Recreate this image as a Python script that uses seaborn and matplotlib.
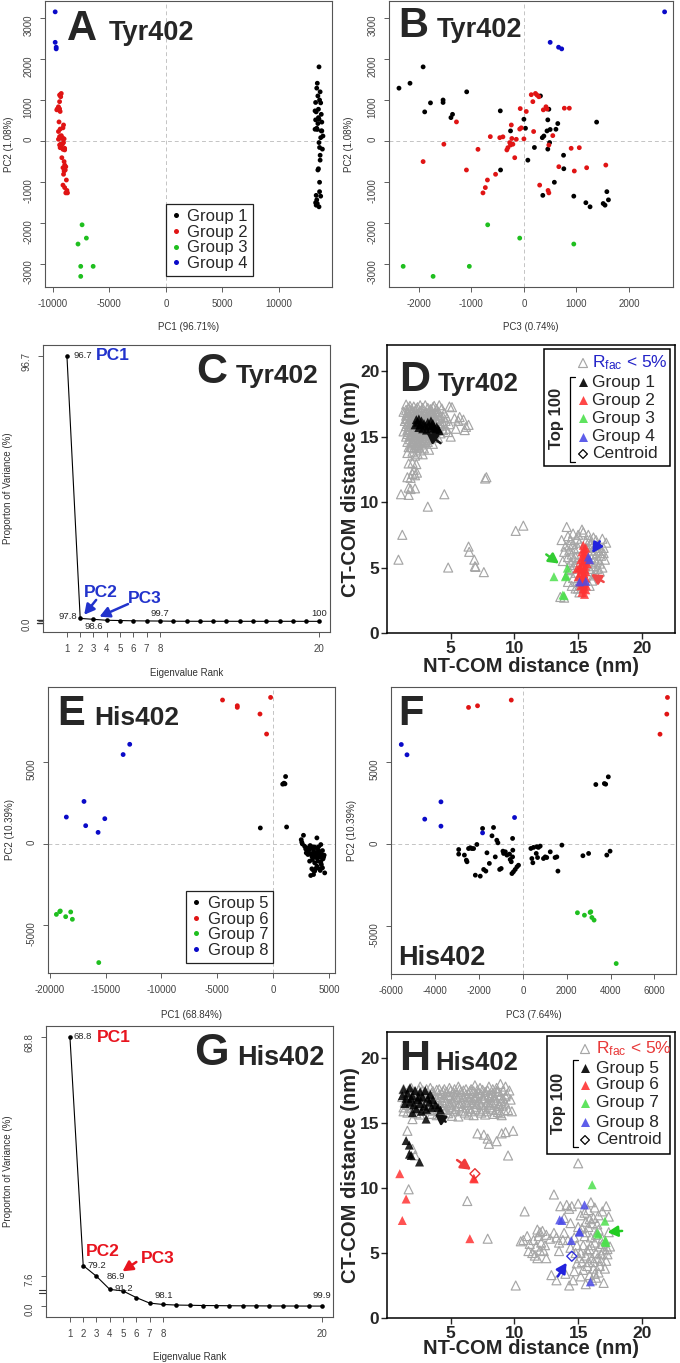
import numpy as np
import pandas as pd
import matplotlib
matplotlib.use("Agg")
import matplotlib.pyplot as plt
import seaborn as sns
from matplotlib.patches import Rectangle
from matplotlib.lines import Line2D

# ---------------- Tyr402 PCA (groups 1-4) ----------------
tyr_g1_pc1 = [13350, 13400, 13550, 13700, 13300, 13600, 13250, 13750, 13500, 13650,
              13200, 13450, 13800, 13550, 13350, 13650, 13450, 13700, 13900, 13600,
              13250, 13500, 13750, 13400, 13850, 13550, 13300, 13600, 13200, 13450,
              13650, 13500, 13700, 13250, 13550, 13400, 13300, 13600, 13350, 13800]
tyr_g1_pc2 = [1290, 1410, 1810, 930, 710, 1000, 940, 650, 570, 1200,
              735, -710, 245, 530, 310, -470, 1100, 80, 120, -160,
              515, 775, 245, 280, -200, -40, -1330, -1010, 285, 425,
              -350, -680, -1350, -1510, -1610, -1530, -1570, -1240, -1440, 460]
tyr_g1_pc3 = [-2380, -2170, -1920, -1780, -1890, -1540, -1540, -1360, -1390, -1090,
              -450, -445, -255, 0, 30, 75, 315, 350, 380, 200,
              455, 475, 440, 500, 455, 490, 360, 580, 610, 645,
              755, 760, 950, 1180, 1260, 1510, 1545, 1580, 1610, 1385]

tyr_g2_pc1 = [-9000, -9300, -9450, -8900, -9100, -8700, -8950, -8800, -9400, -9050,
              -9150, -9350, -8950, -9250, -9050, -9400, -9200, -9050, -9150, -9200,
              -9500, -9550, -9350, -9350, -9100, -9000, -9350, -9400, -9500, -9250,
              -9400, -9300, -9100, -9650, -9500, -9400, -9300, -8850, -8750, -9250,
              -8850, -8950, -9000, -9350, -9550, -9450, -9100, -8950]
tyr_g2_pc2 = [-505, -80, 465, -710, -205, -1270, -1140, -955, 105, -815,
              80, 100, -220, -165, -40, -100, 60, 390, -80, -410,
              40, 790, 720, 290, 320, 50, 1130, 960, 230, 1160,
              1120, 1080, -1080, 760, 835, 780, -100, -1270, -1210, 130,
              -630, -180, -735, -165, 800, 800, -655, -590]
tyr_g2_pc3 = [-1920, -1525, -1285, -1095, -875, -780, -735, -695, -640, -540,
              -460, -400, -325, -305, -270, -255, -230, -240, -210, -175,
              -145, -70, 45, -80, -50, 0, 140, 170, 185, 220,
              250, 285, 300, 370, 420, 440, 475, 475, 460, 550,
              665, 900, 960, 1055, 770, 865, 1195, 1560]

tyr_g3_pc1 = [-7410, -7030, -7770, -7530, -6430, -7530]
tyr_g3_pc2 = [-2050, -2375, -2520, -3065, -3065, -3310]
tyr_g3_pc3 = [-690, -80, 950, -2300, -1040, -1730]

tyr_g4_pc1 = [-9790, -9790, -9700, -9700]
tyr_g4_pc2 = [3155, 2410, 2290, 2250]
tyr_g4_pc3 = [2680, 500, 660, 720]

# ---------------- His402 PCA (groups 5-8) ----------------
his_g5_pc1 = [2900, 3300, 3100, 3500, 3250, 3000, 3700, 3900, 3400, 2600,
              3600, 3350, 3800, 4200, 3950, -1160, 2700, 1190, 3700, 2500,
              2550, 4050, 3450, 4400, 3600, 3850, 4100, 4300, 3550, 4450,
              4000, 3900, 4600, 3700, 4150, 3900, 4300, 3650, 3200, 3150,
              3900, 4250, 3550, 2800, 4050, 3300, 2950, 3750, 4350, 3450,
              4200, 3100, 4500, 3950, 3600, 4250, 4550, 4000, 3800, 4400,
              840, 955, 1045, 1100]
his_g5_pc2 = [-330, -610, -670, -980, -1080, -270, -220, -270, -270, -20,
              -1900, -1960, -1550, -1650, -530, 960, 510, 1020, -1180, 240,
              80, -780, -1550, -1490, -430, -570, -470, -670, -610, -940,
              -1080, 350, -1800, -1690, -1550, -1390, -1290, -780, -370, -265,
              -880, -1140, -200, -160, -200, -120, -570, -820, -880, -780,
              -820, -470, -820, -780, -1650, -60, -710, -570, -670, -430,
              3650, 3710, 3670, 4120]
his_g5_pc3 = [-2930, -2930, -2670, -2580, -2550, -2480, -2400, -2330, -2250, -2100,
              -2170, -1945, -1790, -1690, -1640, -1840, -1410, -1340, -1530, -1190,
              -1140, -1260, -1060, -990, -910, -880, -800, -730, -610, -580,
              -530, -470, -500, -430, -350, -270, -200, -470, -460, 365,
              410, 455, 485, 640, 710, 790, 610, 670, 940, 1020,
              1090, 1250, 1470, 1550, 1600, 1780, 2740, 3000, 3830, 3980,
              3330, 3720, 3780, 3900]

his_g6_pc1 = [-4540, -3220, -3220, -1190, -240, -600]
his_g6_pc2 = [8820, 8470, 8370, 7960, 8980, 6730]
his_g6_pc3 = [-530, -2070, -2480, 6570, 6600, 6260]

his_g7_pc1 = [-19400, -19100, -19050, -18570, -18120, -17970, -15610]
his_g7_pc2 = [-4350, -4180, -4140, -4490, -4200, -4650, -7310]
his_g7_pc3 = [2810, 3070, 3100, 3150, 2490, 3250, 4260]

his_g8_pc1 = [-12840, -13430, -16930, -18510, -15070, -16780, -15670]
his_g8_pc2 = [6100, 5470, 2590, 1630, 1530, 1100, 690]
his_g8_pc3 = [-5550, -5290, -3740, -380, -4480, -3740, -1840]

# ---------------- scree plots ----------------
ranks = list(range(1, 21))
tyr_var = [96.71, 1.08, 0.74, 0.40, 0.30, 0.20, 0.15, 0.12, 0.05, 0.04,
           0.03, 0.03, 0.03, 0.02, 0.02, 0.02, 0.02, 0.02, 0.01, 0.01]
his_var = [68.84, 10.39, 7.64, 4.30, 3.90, 2.20, 0.80, 0.45, 0.30, 0.25,
           0.18, 0.15, 0.12, 0.10, 0.09, 0.07, 0.06, 0.05, 0.04, 0.04]
rank_ticks = [1, 2, 3, 4, 5, 6, 7, 8, 20]

# ---------------- NT-COM / CT-COM distances (nm) ----------------
tyr_rfac = [(1.5, 17.45), (2.1, 17.3), (2.6, 17.4), (3.2, 17.2), (3.7, 17.35), (4.3, 17.15), (4.9, 17.3), (5.1, 17.25),
            (1.3, 16.9), (1.8, 17.05), (2.2, 16.95), (2.7, 17.0), (3.1, 16.85), (3.5, 17.0), (4.0, 16.9), (4.5, 16.8), (5.3, 16.4),
            (1.5, 16.6), (1.9, 16.5), (2.3, 16.7), (2.8, 16.55), (3.3, 16.6), (3.8, 16.45), (4.2, 16.6), (4.7, 16.4), (5.7, 16.5), (6.0, 16.3),
            (1.4, 16.2), (1.7, 16.1), (2.1, 16.3), (2.5, 16.15), (3.0, 16.25), (3.4, 16.1), (3.9, 16.2), (4.4, 16.05), (4.9, 15.95), (5.6, 16.2),
            (1.5, 15.8), (1.9, 15.75), (2.3, 15.9), (2.7, 15.7), (3.2, 15.85), (3.6, 15.7), (4.1, 15.8), (4.6, 15.6), (6.4, 15.9), (6.2, 15.75),
            (1.3, 15.4), (1.7, 15.35), (2.1, 15.5), (2.5, 15.3), (2.9, 15.45), (3.4, 15.3), (3.8, 15.4), (4.2, 15.25), (4.8, 15.35), (5.4, 15.6), (6.1, 15.5), (5.0, 15.0),
            (1.5, 15.0), (1.9, 15.1), (2.3, 14.95), (2.7, 15.05), (3.1, 14.9), (3.5, 15.0), (4.0, 14.9),
            (1.6, 14.6), (2.0, 14.5), (2.4, 14.65), (2.8, 14.5), (3.2, 14.6), (3.6, 14.45),
            (1.7, 14.2), (2.1, 14.1), (2.5, 14.25), (2.9, 14.1), (3.3, 14.0),
            (1.6, 13.75), (2.0, 13.85), (2.4, 13.7), (2.8, 13.65), (2.2, 13.55),
            (1.7, 17.2), (2.3, 17.15), (2.8, 17.2), (3.4, 17.1), (3.9, 17.1), (1.6, 16.8), (2.0, 16.85), (2.5, 16.8), (3.0, 16.7), (3.5, 16.8), (4.0, 16.65),
            (1.6, 16.4), (2.1, 16.45), (2.6, 16.4), (3.1, 16.4), (3.6, 16.35), (4.1, 16.4), (1.6, 16.0), (2.0, 15.95), (2.4, 16.0), (2.9, 15.95), (3.3, 16.0), (3.8, 15.95),
            (1.7, 15.6), (2.1, 15.6), (2.5, 15.55), (3.0, 15.6), (3.4, 15.55), (3.9, 15.6), (1.6, 15.2), (2.0, 15.25), (2.4, 15.15), (2.8, 15.2), (3.3, 15.15),
            (1.8, 14.8), (2.2, 14.8), (2.6, 14.85), (3.0, 14.75), (1.9, 14.4), (2.3, 14.35), (2.7, 14.4),
            (1.8, 17.35), (2.4, 17.25), (3.0, 17.4), (3.6, 17.25), (4.1, 17.4), (1.5, 17.05), (2.0, 17.0), (2.6, 16.95), (3.3, 16.95), (3.8, 16.85),
            (1.7, 16.65), (2.2, 16.6), (2.7, 16.6), (3.2, 16.5), (3.7, 16.6), (4.4, 16.5), (1.5, 16.35), (1.9, 16.3), (2.4, 16.25), (2.8, 16.3),
            (3.3, 16.25), (3.9, 16.35), (4.6, 16.2), (1.8, 15.95), (2.2, 16.05), (2.6, 15.85), (3.1, 15.75), (3.5, 15.95), (4.3, 15.85), (1.6, 15.5),
            (2.0, 15.45), (2.3, 15.35), (2.7, 15.45), (3.2, 15.35), (3.6, 15.45), (4.4, 15.5), (1.8, 15.05), (2.2, 15.15), (2.6, 15.25), (3.0, 15.05),
            (3.7, 15.15), (2.0, 14.65), (2.5, 14.55), (2.9, 14.65), (3.3, 14.8), (1.9, 14.2), (2.3, 14.15), (2.6, 13.95),
            (1.7, 12.95), (2.0, 13.0), (2.3, 12.9), (2.1, 12.45), (2.35, 12.25), (2.0, 12.15), (1.6, 11.9), (1.85, 11.85), (2.2, 12.05),
            (1.7, 11.1), (1.85, 11.0), (2.2, 11.05), (1.1, 10.6), (1.7, 10.55), (3.2, 9.65), (4.5, 10.6), (7.7, 11.8), (7.8, 11.9),
            (1.2, 7.5), (0.9, 5.6), (4.8, 5.0), (6.4, 6.6), (6.45, 6.2), (6.85, 5.6), (6.9, 5.1), (6.95, 5.05), (7.6, 4.65), (10.1, 7.8), (10.7, 8.2),
            (14.1, 8.1), (13.7, 7.1), (14.4, 7.1), (15.3, 7.9), (15.4, 7.7), (15.8, 7.5), (16.2, 7.3), (16.4, 7.1), (14.0, 6.6), (14.3, 6.3),
            (13.9, 6.2), (14.6, 6.8), (14.9, 7.2), (15.1, 6.9), (15.6, 7.0), (16.0, 6.8), (16.6, 6.7), (17.0, 6.5), (17.2, 6.9), (16.9, 7.2),
            (14.5, 6.0), (14.8, 5.8), (14.7, 6.4), (16.1, 6.3), (16.5, 6.1), (16.8, 5.9), (17.1, 5.6), (16.3, 5.7), (16.7, 5.3), (16.2, 5.1),
            (16.9, 5.0), (16.5, 4.9), (16.4, 4.5), (16.0, 4.7), (14.4, 5.4), (14.7, 5.2), (14.3, 4.8), (14.8, 4.6), (14.6, 4.2), (14.9, 3.9),
            (14.5, 3.6), (15.0, 3.4), (15.2, 3.6), (15.1, 3.1), (16.1, 4.0), (15.9, 3.6), (13.6, 2.75), (13.9, 2.7), (14.2, 5.8), (13.8, 5.5),
            (14.2, 7.4), (14.6, 7.6), (15.0, 7.5), (15.7, 6.5), (16.3, 6.5), (15.9, 6.0), (16.6, 5.6), (16.2, 6.0), (16.8, 6.3), (17.0, 6.1),
            (15.0, 6.5), (16.1, 6.6), (16.4, 5.4), (16.7, 4.7), (14.9, 5.4), (14.5, 4.9), (16.2, 4.4), (15.9, 7.1), (14.3, 6.7), (14.8, 3.4),
            (16.0, 5.3), (16.6, 6.3), (14.6, 5.6), (15.9, 4.9), (14.2, 3.9)]

tyr_top = {
    "Group 1": [(2.3, 16.3), (2.4, 16.1), (2.5, 16.35), (2.6, 15.9), (2.7, 16.2), (2.5, 15.7), (2.9, 16.0), (3.0, 15.8),
                (3.2, 16.1), (3.3, 15.9), (3.4, 15.6), (3.5, 15.85), (3.6, 16.0), (3.7, 15.7), (3.8, 15.5), (3.9, 15.75),
                (4.0, 15.6), (4.1, 15.45), (2.8, 15.6), (3.1, 15.5), (2.2, 15.9), (3.45, 16.2)],
    "Group 2": [(15.4, 6.7), (15.5, 6.4), (15.3, 6.2), (15.6, 6.0), (15.4, 5.8), (15.2, 5.6), (15.5, 5.5), (15.7, 5.3),
                (15.3, 5.2), (15.1, 5.0), (15.5, 4.9), (15.6, 4.7), (15.2, 4.6), (15.4, 4.4), (15.0, 4.3), (15.6, 4.2),
                (15.3, 4.0), (15.5, 3.8), (15.2, 3.6), (15.4, 3.4), (15.6, 3.3), (15.3, 3.1), (15.5, 2.95), (15.45, 6.1),
                (15.35, 5.4), (15.55, 5.1), (15.25, 4.8), (15.45, 4.55), (15.65, 3.6), (15.15, 3.9), (15.4, 3.7),
                (15.35, 4.25), (14.9, 4.9), (15.8, 5.6), (15.6, 6.5)],
    "Group 3": [(13.1, 4.3), (14.0, 4.3), (14.15, 4.95), (14.05, 4.4), (13.8, 2.9), (13.9, 2.85)],
    "Group 4": [(15.9, 5.6), (15.8, 5.8), (15.6, 3.95), (15.1, 3.9)],
}

his_rfac = [(1.3, 17.6), (1.9, 17.7), (2.6, 17.8), (3.4, 17.7), (4.1, 17.6), (4.9, 17.7), (5.6, 17.8), (6.2, 17.6), (6.9, 17.9), (7.3, 17.7),
            (8.0, 17.8), (8.6, 17.7), (8.9, 18.0), (9.3, 17.8), (9.6, 17.5),
            (1.5, 17.3), (2.2, 17.4), (2.9, 17.3), (3.6, 17.45), (4.3, 17.3), (4.7, 17.4), (5.2, 17.35), (5.8, 17.4), (6.4, 17.3), (6.8, 17.45),
            (7.2, 17.3), (7.7, 17.4), (8.3, 17.3), (8.7, 17.4), (9.4, 17.2),
            (1.2, 17.0), (1.8, 16.95), (2.4, 17.1), (3.1, 16.9), (3.8, 17.0), (4.5, 16.95), (5.0, 17.05), (5.5, 16.9), (6.0, 17.0), (6.6, 16.95),
            (7.0, 17.1), (7.5, 16.9), (8.1, 17.0), (8.5, 16.9), (9.1, 16.9), (9.7, 16.8),
            (1.4, 16.6), (2.0, 16.55), (2.7, 16.7), (3.3, 16.5), (4.0, 16.6), (4.6, 16.55), (5.1, 16.65), (5.7, 16.5), (6.2, 16.6), (6.7, 16.5),
            (7.2, 16.65), (7.8, 16.5), (8.2, 16.6), (8.8, 16.45), (9.3, 16.5),
            (1.3, 16.2), (1.9, 16.15), (2.5, 16.3), (3.2, 16.1), (3.9, 16.2), (4.4, 16.1), (4.9, 16.25), (5.4, 16.1), (5.9, 16.2), (6.5, 16.1),
            (7.0, 16.25), (7.6, 16.1), (8.1, 16.2), (8.6, 16.0), (9.5, 16.0), (9.8, 15.9),
            (1.6, 15.8), (2.3, 15.75), (3.5, 15.7), (4.2, 15.8), (4.8, 15.75), (5.6, 15.5), (6.1, 15.8), (6.8, 15.6), (7.4, 15.8), (8.4, 15.7),
            (9.0, 15.6), (2.0, 15.3),
            (1.7, 17.5), (2.5, 17.55), (3.1, 17.6), (3.9, 17.55), (4.5, 17.6), (5.3, 17.6), (6.0, 17.5), (6.6, 17.6), (7.5, 17.55), (8.3, 17.6),
            (1.6, 17.15), (2.6, 17.2), (3.3, 17.15), (4.1, 17.2), (5.4, 17.2), (6.2, 17.2), (7.4, 17.2), (8.0, 17.15), (8.9, 17.15),
            (1.7, 16.8), (2.3, 16.8), (3.0, 16.75), (3.6, 16.8), (4.3, 16.75), (5.3, 16.8), (6.4, 16.8), (6.9, 16.75), (7.6, 16.8), (8.4, 16.75), (9.0, 16.7),
            (1.6, 16.4), (2.2, 16.4), (2.9, 16.35), (3.6, 16.4), (4.2, 16.35), (5.0, 16.4), (5.6, 16.3), (6.3, 16.4), (7.4, 16.4), (8.0, 16.4), (8.8, 16.3),
            (2.7, 16.0), (3.7, 15.95), (4.6, 16.0), (5.3, 15.9), (6.6, 15.9), (7.8, 15.9), (8.7, 15.85),
            (2.0, 17.35), (2.8, 17.5), (3.5, 17.3), (4.4, 17.45), (5.0, 17.5), (5.7, 17.6), (6.5, 17.45), (7.1, 17.55), (7.9, 17.5), (8.6, 17.45), (9.1, 17.5),
            (2.1, 17.0), (2.9, 17.05), (3.5, 16.95), (4.2, 17.0), (4.8, 17.15), (5.7, 17.0), (6.3, 17.05), (6.9, 16.95), (7.7, 17.1), (8.4, 17.05), (9.3, 17.05),
            (1.8, 16.5), (2.5, 16.6), (3.4, 16.65), (4.4, 16.55), (4.9, 16.5), (5.9, 16.55), (6.6, 16.6), (7.0, 16.45), (7.9, 16.6), (8.5, 16.55), (9.1, 16.35),
            (2.1, 16.1), (2.9, 16.15), (3.4, 16.0), (4.1, 15.95), (5.1, 16.05), (5.8, 15.95), (6.9, 16.05), (7.3, 15.95), (8.3, 16.05), (9.2, 15.95),
            (2.6, 15.65), (3.9, 15.6), (5.1, 15.55), (6.4, 15.65), (7.7, 15.65), (8.9, 15.75),
            (7.1, 14.2), (7.6, 14.1), (7.9, 13.8), (8.0, 13.4), (8.6, 13.6), (9.0, 14.2), (9.3, 14.3), (9.9, 14.4), (9.5, 12.5), (1.6, 14.4),
            (2.0, 13.0), (2.2, 12.5), (1.7, 9.9), (6.3, 9.0), (7.9, 6.1), (1.3, 15.9),
            (15.0, 11.9), (13.1, 9.5), (10.8, 8.2), (13.6, 8.6), (14.1, 8.7), (14.5, 8.6), (14.3, 8.4), (15.0, 8.8), (15.8, 8.3), (16.3, 8.5),
            (16.9, 8.2), (17.2, 8.6), (16.6, 7.9), (17.4, 7.8), (10.7, 6.0), (10.5, 5.9), (11.2, 5.7), (11.5, 6.0), (11.9, 6.3), (12.2, 6.7),
            (12.5, 6.4), (11.1, 5.15), (11.4, 5.0), (11.6, 4.8), (12.3, 5.15), (12.5, 4.6), (11.0, 6.3), (11.8, 6.8), (12.1, 5.8), (13.1, 6.55),
            (13.9, 6.55), (13.5, 5.8), (13.5, 5.15), (13.8, 6.0), (14.4, 5.4), (14.7, 6.2), (15.0, 7.0), (15.3, 6.9), (15.6, 6.6), (15.8, 7.0),
            (16.2, 7.7), (16.5, 7.2), (16.0, 6.2), (16.3, 5.8), (16.7, 5.5), (17.0, 5.2), (16.4, 5.0), (16.1, 4.6), (16.8, 4.4), (17.3, 4.9),
            (17.5, 5.5), (15.4, 5.6), (15.2, 5.0), (15.6, 4.8), (14.9, 4.2), (15.3, 4.3), (15.7, 4.0), (16.2, 3.8), (16.6, 3.5), (17.1, 3.8),
            (17.2, 4.4), (14.0, 3.4), (14.6, 2.9), (15.2, 3.2), (15.6, 2.6), (16.1, 2.9), (16.4, 3.1), (17.0, 2.7), (13.3, 2.9), (12.9, 3.3),
            (10.1, 2.5), (14.3, 2.5), (15.9, 3.3), (16.9, 6.1), (17.4, 6.6), (16.6, 6.8), (15.9, 7.6), (15.2, 7.9), (14.4, 7.3), (13.9, 7.7),
            (16.2, 4.3), (15.9, 5.3), (16.7, 4.0), (14.7, 3.6), (12.0, 5.2), (11.8, 4.6), (12.8, 6.1), (15.5, 8.1), (16.0, 8.9), (14.8, 5.0),
            (15.5, 6.3), (16.0, 5.6), (16.4, 6.4), (15.7, 5.2), (16.5, 4.6), (16.9, 5.7), (15.1, 4.6), (15.8, 4.3), (16.3, 3.4), (15.4, 3.7),
            (16.8, 4.9), (17.3, 5.3), (14.9, 5.6), (15.6, 7.4), (16.1, 7.3), (12.4, 5.6), (11.7, 5.5), (12.0, 6.6), (13.3, 6.2), (14.2, 6.0)]

his_top = {
    "Group 5": [(1.3, 17.6), (1.6, 17.3), (1.8, 17.7), (2.0, 17.1), (2.2, 17.5), (2.4, 16.8), (2.6, 17.4), (2.8, 17.0),
                (3.0, 17.5), (3.2, 16.9), (3.4, 17.2), (1.5, 16.9), (1.8, 16.6), (2.1, 16.4), (2.3, 16.1), (2.0, 15.8),
                (2.6, 16.5), (2.9, 16.3), (3.3, 16.6), (3.6, 16.8), (3.8, 16.4), (4.0, 16.2), (4.2, 16.0), (1.4, 16.5),
                (1.9, 16.9), (2.7, 15.9), (3.5, 16.2), (2.5, 17.0), (1.2, 17.1), (3.1, 16.05), (3.07, 15.3),
                (1.5, 13.65), (1.75, 13.3), (1.76, 12.6), (1.9, 12.5), (2.55, 12.0)],
    "Group 6": [(1.0, 11.1), (1.5, 9.15), (1.2, 7.5), (6.5, 6.1), (6.8, 10.75), (6.85, 10.7)],
    "Group 7": [(16.1, 10.25), (17.1, 7.45), (16.5, 6.55), (17.1, 5.86), (17.15, 6.0), (16.6, 6.45), (17.2, 5.8)],
    "Group 8": [(15.5, 8.7), (13.55, 7.55), (13.73, 7.5), (15.1, 6.6), (14.46, 5.96), (15.96, 2.78), (15.1, 6.65)],
}
his_centroids = [(6.9, 11.1, "Group 6"), (14.5, 4.75, "Group 8")]

# ---------------- colours ----------------
dot_cols = ["#000000", "#e01414", "#1fbf1f", "#0a0ac8"]
tri_cols = ["#000000", "#ff3434", "#4ee04e", "#4c4ce8"]
grey = "#a6a6a6"

W, H = 680, 1363
sns.set_style("white")
plt.rcParams["font.family"] = ["Liberation Sans", "DejaVu Sans"]
plt.rcParams["axes.unicode_minus"] = False
plt.rcParams["mathtext.fontset"] = "custom"
plt.rcParams["mathtext.rm"] = "Liberation Sans"
plt.rcParams["mathtext.it"] = "Liberation Sans:italic"

fig = plt.figure(figsize=(W / 100, H / 100), dpi=100)


def add_ax(box):
    l, t, r, b = box
    return fig.add_axes([l / W, 1 - b / H, (r - l) / W, (b - t) / H])


def place_labels(ax, box, xlab_y, ylab_x):
    l, t, r, b = box
    ax.xaxis.set_label_coords(0.5, (b - xlab_y) / (b - t))
    ax.xaxis.label.set_va("center")
    ax.yaxis.set_label_coords((ylab_x - l) / (r - l), 0.5)
    ax.yaxis.label.set_va("center")


def r_style(ax):
    for sp in ax.spines.values():
        sp.set_color("#555555")
        sp.set_linewidth(0.8)
    ax.tick_params(bottom=True, left=True, direction="out", length=3.5, width=0.6,
                   colors="#444444", labelsize=7, pad=5)
    ax.tick_params(axis="y", labelrotation=90)


def tag(letter, lx, name, nx, base, s1, s2):
    fig.text(lx / W, 1 - base / H, letter, fontsize=s1, fontweight="bold", va="baseline")
    fig.text(nx / W, 1 - base / H, name, fontsize=s2, fontweight="bold", va="baseline")


def pca_panel(box, df, xcol, ycol, xlim, ylim, xticks, yticks, xlabel, ylabel, xlab_y, ylab_x):
    ax = add_ax(box)
    ax.axhline(0, color="#c4c4c4", lw=0.7, ls=(0, (4, 3)), zorder=0)
    ax.axvline(0, color="#c4c4c4", lw=0.7, ls=(0, (4, 3)), zorder=0)
    sns.scatterplot(data=df, x=xcol, y=ycol, hue="group", palette=dot_cols, s=12,
                    linewidth=0, legend=False, ax=ax, zorder=3)
    ax.set(xlim=xlim, ylim=ylim, xticks=xticks, yticks=yticks)
    ax.set_xlabel(xlabel, fontsize=7, color="#333333")
    ax.set_ylabel(ylabel, fontsize=7, color="#333333")
    r_style(ax)
    place_labels(ax, box, xlab_y, ylab_x)
    return ax


def group_legend(ax, names, anchor):
    handles = [Line2D([], [], ls="", marker="o", markersize=3.6, color=c, markeredgewidth=0) for c in dot_cols]
    leg = ax.legend(handles, names, loc="lower left", bbox_to_anchor=anchor, borderaxespad=0,
                    fontsize=12, frameon=True, fancybox=False, edgecolor="#222222", framealpha=1,
                    handlelength=0.6, handletextpad=0.4, labelspacing=0.04, borderpad=0.3)
    leg.get_frame().set_linewidth(0.9)


def scree_panel(box, var, yticks, ylabels, ylim, xlab_y, ylab_x):
    ax = add_ax(box)
    sns.lineplot(x=ranks, y=var, color="black", lw=0.8, marker="o", markersize=3.3,
                 markeredgewidth=0, ax=ax)
    ax.set(xlim=(-0.8, 20.8), ylim=ylim)
    ax.set_xticks(rank_ticks)
    ax.set_yticks(yticks)
    ax.set_yticklabels(ylabels)
    ax.set_xlabel("Eigenvalue Rank", fontsize=7, color="#333333")
    ax.set_ylabel("Proporton of Variance (%)", fontsize=7, color="#333333")
    r_style(ax)
    place_labels(ax, box, xlab_y, ylab_x)
    return ax


def dist_panel(box, rfac, top, cols, xlab_y, ylab_x):
    ax = add_ax(box)
    gx, gy = zip(*rfac)
    sns.scatterplot(x=list(gx), y=list(gy), marker="^", s=42, color=grey, facecolor="none",
                    edgecolor=grey, linewidth=0.85, ax=ax, zorder=2)
    rows = [(n, x, y) for n, pts in top.items() for x, y in pts]
    tdf = pd.DataFrame(rows, columns=["group", "x", "y"])
    sns.scatterplot(data=tdf, x="x", y="y", hue="group", palette=cols, marker="^", s=42,
                    linewidth=0, alpha=0.85, legend=False, ax=ax, zorder=3)
    ax.set(xlim=(0, 22.6), ylim=(0, 22), xticks=[5, 10, 15, 20], yticks=[0, 5, 10, 15, 20])
    for sp in ax.spines.values():
        sp.set_color("black")
        sp.set_linewidth(1.1)
    ax.tick_params(bottom=True, left=True, direction="out", length=4, width=1.0,
                   labelsize=12.5, pad=1.5)
    for lab in ax.get_xticklabels() + ax.get_yticklabels():
        lab.set_fontweight("bold")
    ax.set_xlabel("NT-COM distance (nm)", fontsize=14.5, fontweight="bold")
    ax.set_ylabel("CT-COM distance (nm)", fontsize=14.5, fontweight="bold")
    place_labels(ax, box, xlab_y, ylab_x)
    return ax


def arrow(ax, x0, y0, x1, y1, c):
    ax.annotate("", xy=(x1, y1), xytext=(x0, y0), zorder=6,
                arrowprops=dict(arrowstyle="-|>,head_length=0.6,head_width=0.32", color=c,
                                lw=1.8, shrinkA=0, shrinkB=0))


def dist_legend(ax, box, lb, rows_y, mx, tx, brx, br_t, br_b, top_xy, names, cols, rcol):
    l, t, r, b = box

    def A(x, y):
        return ((x - l) / (r - l), (b - y) / (b - t))

    x0, y0 = A(lb[0], lb[3])
    x1, y1 = A(lb[2], lb[1])
    ax.add_patch(Rectangle((x0, y0), x1 - x0, y1 - y0, transform=ax.transAxes, facecolor="white",
                           edgecolor="black", lw=1.1, zorder=7))
    labels = [r"R$_{\rm fac}$ < 5%"] + names + ["Centroid"]
    for i, (yy, lab) in enumerate(zip(rows_y, labels)):
        px, py = A(mx, yy)
        tx_, _ = A(tx, yy)
        if i == 0:
            ax.scatter([px], [py], marker="^", s=42, facecolor="none", edgecolor=grey, lw=0.85,
                       transform=ax.transAxes, zorder=8, clip_on=False)
            ax.text(tx_, py, lab, transform=ax.transAxes, fontsize=12.5, color=rcol, va="center", zorder=8)
        elif i <= 4:
            ax.scatter([px], [py], marker="^", s=42, color=cols[i - 1], lw=0, alpha=0.9,
                       transform=ax.transAxes, zorder=8, clip_on=False)
            ax.text(tx_, py, lab, transform=ax.transAxes, fontsize=12.5, va="center", zorder=8)
        else:
            ax.scatter([px], [py], marker="D", s=20, facecolor="none", edgecolor="black", lw=0.9,
                       transform=ax.transAxes, zorder=8, clip_on=False)
            ax.text(tx_, py, lab, transform=ax.transAxes, fontsize=12.5, va="center", zorder=8)
    bx, bt = A(brx, br_t)
    _, bb = A(brx, br_b)
    bx2, _ = A(brx + 5, br_t)
    ax.plot([bx2, bx, bx, bx2], [bt, bt, bb, bb], color="black", lw=0.9, transform=ax.transAxes, zorder=8)
    tx0, ty0 = A(*top_xy)
    ax.text(tx0, ty0, "Top 100", rotation=90, fontsize=12, fontweight="bold", ha="center", va="center",
            transform=ax.transAxes, zorder=8)


# ---------------- panel A / B ----------------
tyr_df = pd.concat([
    pd.DataFrame({"pc1": tyr_g1_pc1, "pc2": tyr_g1_pc2, "pc3": tyr_g1_pc3, "group": "Group 1"}),
    pd.DataFrame({"pc1": tyr_g2_pc1, "pc2": tyr_g2_pc2, "pc3": tyr_g2_pc3, "group": "Group 2"}),
    pd.DataFrame({"pc1": tyr_g3_pc1, "pc2": tyr_g3_pc2, "pc3": tyr_g3_pc3, "group": "Group 3"}),
    pd.DataFrame({"pc1": tyr_g4_pc1, "pc2": tyr_g4_pc2, "pc3": tyr_g4_pc3, "group": "Group 4"}),
])
boxA = (45, 1, 332, 287)
axA = pca_panel(boxA, tyr_df, "pc1", "pc2", (-10690, 14700), (-3570, 3420),
                [-10000, -5000, 0, 5000, 10000], [-3000, -2000, -1000, 0, 1000, 2000, 3000],
                "PC1 (96.71%)", "PC2 (1.08%)", 327, 9)
group_legend(axA, ["Group 1", "Group 2", "Group 3", "Group 4"], (0.42, 0.038))
tag("A", 67, "Tyr402", 109, 40, 30, 19.5)

boxB = (389, 1, 673, 287)
pca_panel(boxB, tyr_df, "pc3", "pc2", (-2570, 2840), (-3570, 3420),
          [-2000, -1000, 0, 1000, 2000], [-3000, -2000, -1000, 0, 1000, 2000, 3000],
          "PC3 (0.74%)", "PC2 (1.08%)", 327, 349)
tag("B", 398, "Tyr402", 437, 37, 30, 19.5)

# ---------------- panel C ----------------
boxC = (43, 345, 330, 632)
axC = scree_panel(boxC, tyr_var, [0, 96.7], ["0.0", "96.7"], (-3.87, 100.57), 673, 8)
blue_t = "#2233cc"
axC.text(1.48, 96.7, "96.7", fontsize=6.8, va="center")
axC.text(3.15, 96.7, "PC1", fontsize=12.5, fontweight="bold", color=blue_t, va="center")
axC.text(2.3, 10.6, "PC2", fontsize=12.5, fontweight="bold", color=blue_t, va="center")
axC.text(5.6, 8.2, "PC3", fontsize=12.5, fontweight="bold", color=blue_t, va="center")
axC.text(1.75, 1.7, "97.8", fontsize=6.8, va="center", ha="right")
axC.text(2.35, -1.95, "98.6", fontsize=6.8, va="center")
axC.text(8.0, 3.0, "99.7", fontsize=6.8, va="center", ha="center")
axC.text(20.0, 3.0, "100", fontsize=6.8, va="center", ha="center")
arrow(axC, 3.2, 7.8, 2.3, 2.4, blue_t)
arrow(axC, 5.6, 6.3, 3.45, 1.7, blue_t)
for yb in (-0.6, 0.6):
    axC.plot([-0.02, 0.0], [yb, yb], color="#333333", lw=1.0, clip_on=False,
             transform=axC.get_yaxis_transform())
tag("C", 196, "Tyr402", 236, 383, 31, 19)

# ---------------- panel D ----------------
boxD = (387, 345, 675, 633)
axD = dist_panel(boxD, tyr_rfac, tyr_top, tri_cols, 667, 350)
arrow(axD, 4.2, 14.5, 3.1, 15.3, "#111111")
arrow(axD, 12.5, 6.0, 13.5, 5.3, "#33cc33")
arrow(axD, 16.7, 7.0, 16.1, 6.1, "#2222dd")
arrow(axD, 17.0, 3.9, 16.0, 4.5, "#f04848")
dist_legend(axD, boxD, (544, 349, 670, 466), [363, 382, 400, 418, 437, 454], 583, 592,
            570, 377, 462, (556, 418), ["Group 1", "Group 2", "Group 3", "Group 4"], tri_cols, "#2323c8")
tag("D", 399, "Tyr402", 438, 391, 31, 18.5)

# ---------------- panel E / F ----------------
his_df = pd.concat([
    pd.DataFrame({"pc1": his_g5_pc1, "pc2": his_g5_pc2, "pc3": his_g5_pc3, "group": "Group 5"}),
    pd.DataFrame({"pc1": his_g6_pc1, "pc2": his_g6_pc2, "pc3": his_g6_pc3, "group": "Group 6"}),
    pd.DataFrame({"pc1": his_g7_pc1, "pc2": his_g7_pc2, "pc3": his_g7_pc3, "group": "Group 7"}),
    pd.DataFrame({"pc1": his_g8_pc1, "pc2": his_g8_pc2, "pc3": his_g8_pc3, "group": "Group 8"}),
])
boxE = (48, 687, 335, 973)
axE = pca_panel(boxE, his_df, "pc1", "pc2", (-20150, 5520), (-7950, 9620),
                [-20000, -15000, -10000, -5000, 0, 5000], [-5000, 0, 5000],
                "PC1 (68.84%)", "PC2 (10.39%)", 1015, 10)
group_legend(axE, ["Group 5", "Group 6", "Group 7", "Group 8"], (0.481, 0.035))
tag("E", 57, "His402", 94, 725, 30, 19)

boxF = (391, 687, 676, 974)
pca_panel(boxF, his_df, "pc3", "pc2", (-6020, 6990), (-7950, 9620),
          [-6000, -4000, -2000, 0, 2000, 4000, 6000], [-5000, 0, 5000],
          "PC3 (7.64%)", "PC2 (10.39%)", 1015, 352)
fig.text(398 / W, 1 - 725 / H, "F", fontsize=30, fontweight="bold", va="baseline")
fig.text(398 / W, 1 - 965 / H, "His402", fontsize=19.5, fontweight="bold", va="baseline")

# ---------------- panel G ----------------
boxG = (46, 1026, 333, 1317)
axG = scree_panel(boxG, his_var, [0, 7.6, 68.8], ["0.0", "7.6", "68.8"], (-2.75, 71.55), 1357, 8)
red_t = "#e8141e"
axG.text(1.3, 68.8, "68.8", fontsize=6.8, va="center")
axG.text(3.05, 68.6, "PC1", fontsize=12.5, fontweight="bold", color=red_t, va="center")
axG.text(2.2, 13.9, "PC2", fontsize=12.5, fontweight="bold", color=red_t, va="center")
axG.text(2.35, 10.3, "79.2", fontsize=6.8, va="center")
axG.text(3.75, 7.6, "86.9", fontsize=6.8, va="center")
axG.text(6.35, 12.1, "PC3", fontsize=12.5, fontweight="bold", color=red_t, va="center")
axG.text(4.35, 4.5, "91.2", fontsize=6.8, va="center")
axG.text(8.05, 2.85, "98.1", fontsize=6.8, va="center", ha="center")
axG.text(20.0, 2.85, "99.9", fontsize=6.8, va="center", ha="center")
arrow(axG, 6.0, 11.3, 4.96, 8.9, red_t)
for yb in (3.4, 4.1):
    axG.plot([-0.024, 0.0], [yb, yb], color="#333333", lw=0.8, clip_on=False,
             transform=axG.get_yaxis_transform())
tag("G", 194, "His402", 237, 1065, 32, 19.5)

# ---------------- panel H ----------------
boxH = (387, 1032, 675, 1318)
axH = dist_panel(boxH, his_rfac, his_top, tri_cols, 1348, 350)
cent_col = {"Group 6": "#e83030", "Group 8": "#3030dd"}
for cx, cy, g in his_centroids:
    sns.scatterplot(x=[cx], y=[cy], marker="D", s=26, color=cent_col[g], facecolor="none",
                    edgecolor=cent_col[g], linewidth=1.0, ax=axH, zorder=5)
arrow(axH, 4.6, 15.1, 3.75, 15.7, "#111111")
arrow(axH, 5.5, 12.15, 6.6, 11.4, "#f03c3c")
arrow(axH, 18.45, 6.7, 17.3, 6.6, "#22cc22")
arrow(axH, 13.4, 3.2, 14.1, 4.25, "#2222dd")
dist_legend(axH, boxH, (547, 1036, 670, 1154), [1049, 1068, 1085, 1103, 1122, 1140], 585, 596,
            573, 1060, 1147, (558, 1103), ["Group 5", "Group 6", "Group 7", "Group 8"], tri_cols, "#e83838")
tag("H", 399, "His402", 435, 1070, 31, 18.5)

fig.savefig("out.png", dpi=100)
